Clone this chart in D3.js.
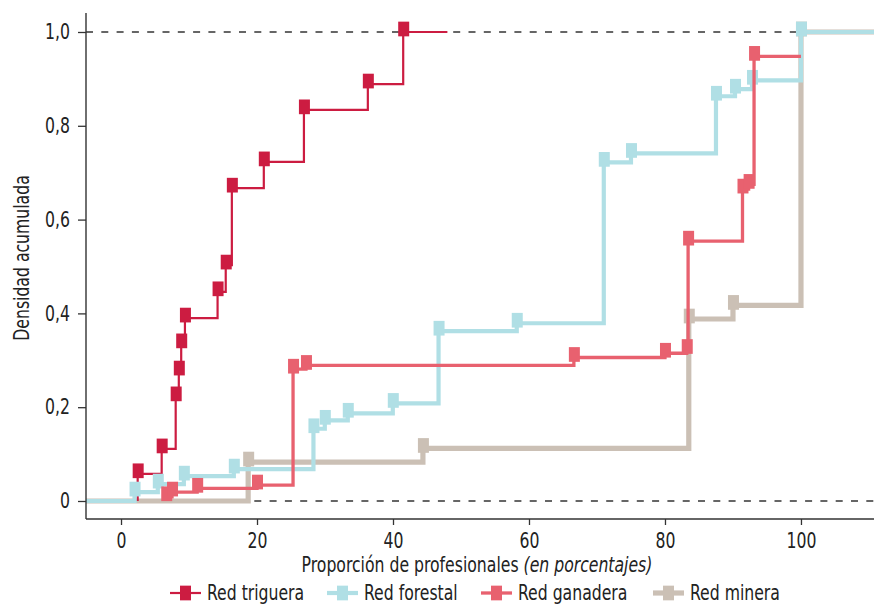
<!DOCTYPE html>
<html lang="es">
<head>
<meta charset="utf-8">
<script src="https://cdn.jsdelivr.net/npm/d3@7"></script>
<style>
  html, body { margin: 0; padding: 0; background: #fff; }
  svg { display: block; font-family: 'Liberation Sans Narrow', 'DejaVu Sans Condensed', sans-serif; }
</style>
</head>
<body>
<svg id="grafico" width="874" height="605"></svg>
<script>
// Funciones de distribución acumulada por red de profesionales
const categorias = ["Red triguera", "Red forestal", "Red ganadera", "Red minera"];

const xTriguera = [2.45, 5.98, 8.04, 8.5, 8.85, 9.4, 14.2, 15.4, 16.3, 21.0, 26.9, 36.3, 41.5];
const yTriguera = [0.058, 0.111, 0.222, 0.277, 0.335, 0.390, 0.446, 0.503, 0.667, 0.723, 0.834, 0.889, 1.0];

const xForestal = [1.99, 5.41, 9.24, 16.59, 28.3, 29.97, 33.35, 39.97, 46.7, 58.2, 71.0, 75.0, 87.5, 90.3, 92.8, 100];
const yForestal = [0.019, 0.036, 0.053, 0.068, 0.154, 0.172, 0.187, 0.208, 0.362, 0.379, 0.722, 0.741, 0.863, 0.878, 0.897, 1.0];

const xGanadera = [6.65, 7.5, 11.2, 20.0, 25.3, 27.2, 66.6, 80.0, 83.2, 83.4, 91.4, 92.3, 93.1];
const yGanadera = [0.009, 0.019, 0.027, 0.034, 0.281, 0.289, 0.306, 0.315, 0.323, 0.554, 0.665, 0.675, 0.948];

const xMinera = [18.7, 44.4, 83.5, 90.0, 100];
const yMinera = [0.083, 0.112, 0.388, 0.417, 1.0];

// Inicio y fin del trazo escalonado de cada red
const inicioTrazo = [2.45, -6, 6.65, -6];
const finTrazo = [48, 115, 100, 115];

const ticksX = [0, 20, 40, 60, 80, 100];
const ticksY = [0, 0.2, 0.4, 0.6, 0.8, 1.0];

const colores = ["#cc1c41", "#b0dfe5", "#e8616f", "#cbc0b5"];
const grosores = [2.2, 4.2, 3.3, 5.2];

const svg = d3.select("#grafico");
const izq = 86, der = 874, arriba = 13, abajo = 519;
const estrecho = 0.83;   // compresión horizontal del texto
const tamTexto = "21px";

const x = d3.scaleLinear().domain([-5.15, 110.74]).range([izq, der]);
const y = d3.scaleLinear().domain([-0.0384, 1.0405]).range([abajo, arriba]);

svg.append("defs").append("clipPath").attr("id", "area")
  .append("rect").attr("x", izq).attr("y", 0).attr("width", der - izq).attr("height", abajo);

// Líneas de referencia en 0 y 1
svg.append("g").selectAll("line").data([0, 1]).join("line")
  .attr("x1", izq).attr("x2", der)
  .attr("y1", d => y(d)).attr("y2", d => y(d))
  .attr("stroke", "#666").attr("stroke-width", 2).attr("stroke-dasharray", "7,8.3");

const series = [
  { nombre: categorias[0], xs: xTriguera, ys: yTriguera },
  { nombre: categorias[1], xs: xForestal, ys: yForestal },
  { nombre: categorias[2], xs: xGanadera, ys: yGanadera },
  { nombre: categorias[3], xs: xMinera, ys: yMinera }
];

const linea = d3.line().x(d => x(d[0])).y(d => y(d[1])).curve(d3.curveStepAfter);
const marcaAncho = 11, marcaAlto = 14.7;

const capa = svg.append("g").attr("clip-path", "url(#area)");
// Orden de dibujo: minera, triguera, forestal, ganadera
[3, 0, 1, 2].forEach(k => {
  const s = series[k];
  const pts = [[inicioTrazo[k], 0]];
  s.xs.forEach((v, j) => pts.push([v, s.ys[j]]));
  pts.push([finTrazo[k], s.ys[s.ys.length - 1]]);
  const g = capa.append("g");
  g.append("path").attr("d", linea(pts))
    .attr("fill", "none").attr("stroke", colores[k])
    .attr("stroke-width", grosores[k]).attr("stroke-linejoin", "miter");
  g.selectAll("rect").data(s.xs.map((v, j) => [v, s.ys[j]])).join("rect")
    .attr("x", d => x(d[0]) - marcaAncho / 2 + 0.5)
    .attr("y", d => y(d[1]) - 3 - marcaAlto / 2)
    .attr("width", marcaAncho).attr("height", marcaAlto)
    .attr("fill", colores[k]);
});

// Ejes
const coma = d3.formatLocale({ decimal: ",", thousands: ".", grouping: [3], currency: ["", "€"] }).format(".1f");
const ejeY = svg.append("g").attr("transform", `translate(${izq},0)`)
  .call(d3.axisLeft(y).tickValues(ticksY).tickSize(8).tickPadding(8)
    .tickFormat(d => d === 0 ? "0" : coma(d)));
ejeY.select(".domain").remove();
ejeY.append("line").attr("x1", 0).attr("x2", 0).attr("y1", arriba).attr("y2", abajo)
  .attr("stroke", "#333").attr("stroke-width", 1.4);
ejeY.selectAll(".tick text").attr("transform", `translate(-16,0) scale(${estrecho},1) translate(16,0)`);

const ejeX = svg.append("g").attr("transform", `translate(0,${abajo})`)
  .call(d3.axisBottom(x).tickValues(ticksX).tickSize(6).tickPadding(8));
ejeX.select(".domain").remove();
ejeX.append("line").attr("x1", izq).attr("x2", der).attr("y1", 0).attr("y2", 0)
  .attr("stroke", "#333").attr("stroke-width", 1.4);
ejeX.selectAll(".tick text").attr("transform", `scale(${estrecho},1)`);

svg.selectAll(".tick line").attr("stroke", "#333").attr("stroke-width", 1.3);
svg.selectAll(".tick text").attr("fill", "#222")
  .style("font-size", tamTexto).style("font-family", "'Liberation Sans Narrow', 'DejaVu Sans Condensed', sans-serif");

// Títulos de ejes
const tx = svg.append("text").attr("transform", `translate(477,572) scale(${estrecho},1)`)
  .attr("text-anchor", "middle").attr("fill", "#222").style("font-size", tamTexto);
tx.append("tspan").text("Proporción de profesionales ");
tx.append("tspan").style("font-style", "italic").text("(en porcentajes)");

svg.append("text").attr("transform", `translate(29,258) rotate(-90) scale(${estrecho},1)`)
  .attr("text-anchor", "middle").attr("fill", "#222").style("font-size", tamTexto)
  .text("Densidad acumulada");

// Leyenda
const leyendaX = [170, 327, 481, 653];
const leyY = 593;
const ley = svg.append("g");
categorias.forEach((c, k) => {
  const gx = leyendaX[k];
  ley.append("line").attr("x1", gx).attr("x2", gx + 31).attr("y1", leyY).attr("y2", leyY)
    .attr("stroke", colores[k]).attr("stroke-width", grosores[k]);
  ley.append("rect").attr("x", gx + 15.5 - marcaAncho / 2).attr("y", leyY - marcaAlto / 2)
    .attr("width", marcaAncho).attr("height", marcaAlto).attr("fill", colores[k]);
  ley.append("text").attr("transform", `translate(${gx + 37},${leyY + 7}) scale(${estrecho},1)`)
    .attr("fill", "#222").style("font-size", tamTexto).text(c);
});
</script>
</body>
</html>
